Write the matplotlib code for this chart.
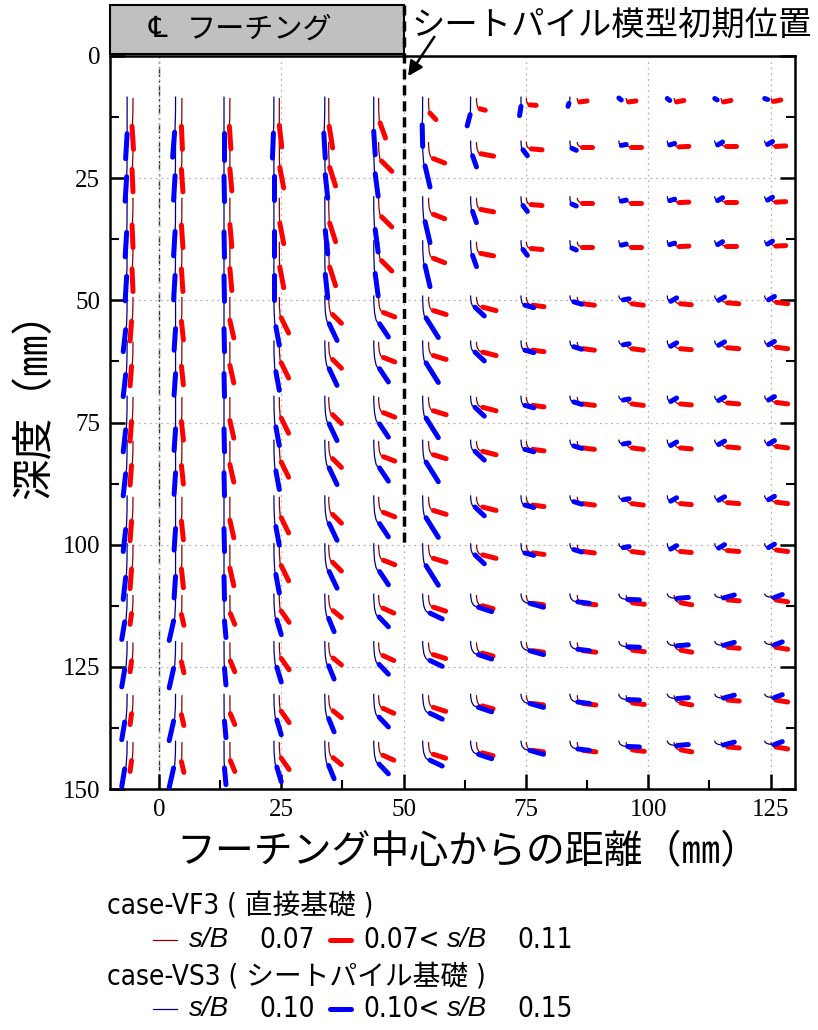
import matplotlib
matplotlib.use('Agg')
import matplotlib.pyplot as plt
from matplotlib import font_manager
from matplotlib.path import Path
from matplotlib.patches import PathPatch, Rectangle
from matplotlib.lines import Line2D
from matplotlib.ticker import MultipleLocator

JP = ['Noto Sans CJK JP', 'DejaVu Sans']
plt.rcParams['font.family'] = JP

# initial depth of each marker row (mm)
row_depth = [8.6, 17.6, 29.0, 38.0, 49.3, 58.5, 69.8, 78.8, 90.2, 100.0, 110.3, 120.0, 130.8, 140.4]
# 0 = surface row, 1 = upper rows, 2 = middle rows, 3 = deep rows
row_band = [0, 1, 1, 1, 2, 2, 2, 2, 2, 2, 3, 3, 3, 3]

# case-VF3 : start x of each column, and (dx1, dy1, dx2, dy2) per column
# (dx1, dy1) = end of s/B <= 0.07 stage, (dx2, dy2) = end of 0.07 < s/B <= 0.11
vf3_x0 = [-5.3, 4.7, 14.5, 24.6, 34.7, 44.9, 55.1, 64.9, 75.1, 85.5, 95.5, 105.3, 114.9, 125.1]
vf3_top = [(-0.2, 5.8, 0.1, 10.5), (-0.1, 5.8, 0.1, 10.5), (-0.1, 5.8, 0.2, 10.4), (0.0, 5.6, 0.5, 10.0),
           (0.1, 5.8, 0.8, 10.2), (0.3, 5.1, 1.4, 8.2), (0.3, 3.1, 1.5, 4.4), (0.7, 2.2, 1.8, 2.5),
           (0.7, 1.4, 2.0, 1.5), (0.5, 0.8, 2.0, 0.6), (0.5, 0.8, 2.0, 0.6), (0.5, 0.8, 2.0, 0.5),
           (0.5, 0.8, 2.0, 0.5), (0.5, 0.7, 2.0, 0.4)]
vf3_upper = [(-0.2, 5.6, 0.0, 10.2), (-0.1, 5.6, 0.2, 10.2), (0.0, 5.5, 0.4, 10.0), (0.1, 5.2, 0.9, 9.4),
             (0.2, 5.2, 1.4, 9.0), (0.6, 3.9, 2.7, 6.0), (1.0, 3.4, 3.3, 4.3), (0.9, 2.4, 3.5, 2.9),
             (1.0, 1.4, 3.2, 1.6), (1.0, 1.0, 3.0, 1.0), (1.0, 1.0, 3.0, 1.0), (1.0, 1.0, 3.0, 0.9),
             (1.0, 0.9, 3.0, 0.9), (1.0, 0.9, 3.0, 0.8)]
vf3_mid = [(-0.3, 5.0, -0.6, 9.0), (-0.1, 5.0, 0.3, 8.8), (0.0, 4.8, 0.8, 8.4), (0.4, 4.3, 1.9, 7.4),
           (0.8, 3.6, 2.6, 5.4), (1.0, 3.2, 3.3, 4.1), (1.0, 2.8, 3.6, 3.6), (1.3, 2.1, 4.0, 2.8),
           (1.3, 1.7, 3.6, 2.0), (1.2, 1.4, 3.5, 1.7), (1.2, 1.4, 3.5, 1.7), (1.3, 1.4, 3.5, 1.6),
           (1.3, 1.2, 3.6, 1.4), (1.1, 1.1, 3.4, 1.4)]
vf3_deep = [(-0.3, 3.8, -0.6, 6.0), (-0.1, 4.0, 0.4, 6.2), (0.1, 3.8, 1.0, 6.0), (0.4, 3.3, 2.0, 5.6),
            (0.9, 3.2, 2.6, 4.6), (0.9, 2.7, 3.1, 3.7), (1.0, 2.5, 3.5, 3.3), (1.2, 2.2, 3.4, 2.8),
            (1.3, 1.7, 3.5, 2.0), (1.2, 1.7, 3.8, 2.0), (1.3, 1.6, 3.7, 1.9), (1.4, 1.6, 3.6, 2.0),
            (1.4, 1.0, 3.7, 1.2), (1.0, 1.0, 3.4, 1.4)]

# case-VS3 : s/B <= 0.10 stage, then 0.10 < s/B <= 0.15
vs3_x0 = [-6.5, 3.4, 13.3, 23.5, 33.9, 43.9, 53.9, 63.7, 74.0, 84.0, 94.0, 103.9, 113.6, 123.8]
vs3_top = [(0.0, 7.6, -0.3, 12.7), (-0.2, 7.3, -0.6, 12.4), (0.0, 7.5, 0.0, 13.0), (-0.1, 7.5, -0.3, 12.6),
           (-0.2, 7.5, 0.1, 12.6), (0.0, 7.1, 0.3, 11.9), (-0.1, 5.8, 0.0, 10.2), (-0.1, 3.7, -0.7, 6.0),
           (0.0, 2.0, -0.3, 3.9), (-0.2, 1.4, -0.4, 2.0), (0.0, 0.3, 0.5, 0.7), (0.0, 0.4, 0.5, 0.8),
           (0.0, 0.4, 0.5, 0.7), (0.0, 0.4, 0.6, 0.6)]
vs3_upper = [(-0.1, 7.4, -0.4, 12.4), (-0.1, 7.2, -0.4, 12.2), (0.0, 7.3, 0.1, 12.5), (0.0, 7.2, 0.0, 12.2),
             (0.1, 7.0, 0.6, 11.8), (0.3, 6.8, 0.9, 11.4), (0.5, 5.2, 1.5, 9.5), (0.4, 3.1, 1.2, 5.4),
             (0.4, 1.9, 1.3, 3.1), (0.4, 1.6, 1.3, 2.0), (0.5, 1.0, 1.5, 0.8), (0.5, 0.9, 1.5, 0.6),
             (0.6, 0.9, 1.6, 0.3), (0.6, 0.8, 1.6, 0.2)]
vs3_mid = [(-0.3, 7.0, -0.8, 11.5), (0.0, 6.8, -0.3, 11.2), (0.0, 6.8, 0.1, 11.5), (0.4, 6.4, 1.1, 10.2),
           (0.9, 5.8, 2.5, 9.2), (1.2, 5.8, 3.0, 8.5), (0.7, 4.6, 3.2, 8.6), (0.9, 2.4, 2.8, 4.2),
           (0.8, 2.0, 2.6, 2.5), (0.8, 1.3, 2.4, 1.8), (0.9, 0.9, 2.1, 0.7), (0.7, 1.2, 1.9, 0.5),
           (0.8, 1.0, 2.0, 0.3), (0.8, 0.9, 2.0, 0.2)]
vs3_deep = [(-0.5, 5.8, -1.1, 9.4), (-0.4, 5.6, -1.3, 9.6), (0.1, 5.6, 0.4, 9.0), (0.6, 5.4, 1.5, 8.4),
            (0.8, 5.1, 1.9, 7.8), (1.1, 4.8, 3.0, 6.8), (1.5, 4.0, 4.0, 5.2), (1.6, 2.8, 4.3, 3.7),
            (1.8, 2.0, 4.6, 2.8), (1.6, 1.7, 4.0, 2.0), (1.8, 1.2, 4.2, 1.3), (2.0, 1.0, 4.3, 0.8),
            (1.8, 0.9, 4.0, 0.3), (2.0, 0.8, 3.6, 0.2)]

x_ticks = [0, 25, 50, 75, 100, 125]
y_ticks = [0, 25, 50, 75, 100, 125, 150]

W, H = 818, 1030


def fx(p):
    return p / W


def fy(p):
    return 1 - p / H


def draw_case(ax, x0s, bands, y_shift, thin_c, thick_c):
    for i, x0 in enumerate(x0s):
        for r, yr in enumerate(row_depth):
            dx1, dy1, dx2, dy2 = bands[row_band[r]][i]
            y0 = yr + y_shift
            verts = [(x0, y0), (x0, y0 + dy1), (x0 + dx1, y0 + dy1)]
            path = Path(verts, [Path.MOVETO, Path.CURVE3, Path.CURVE3])
            ax.add_patch(PathPatch(path, fill=False, edgecolor=thin_c, lw=0.9, zorder=3))
            ax.plot([x0 + dx1, x0 + dx2], [y0 + dy1, y0 + dy2], color=thick_c, lw=3.6,
                    solid_capstyle='round', zorder=4)


# narrow latin face for the legend if one is installed
installed = {f.name for f in font_manager.fontManager.ttflist}
narrow_kw = {'family': ['Liberation Sans', 'Noto Sans CJK JP']}
if 'Liberation Sans Narrow' in installed:
    narrow_kw = {'family': ['Liberation Sans Narrow', 'Noto Sans CJK JP']}
elif any(f.name == 'DejaVu Sans' and 'ondensed' in f.fname for f in font_manager.fontManager.ttflist):
    narrow_kw = {'family': ['DejaVu Sans', 'Noto Sans CJK JP'], 'fontstretch': 'condensed'}

fig = plt.figure(figsize=(W / 100, H / 100), dpi=100)
ax = fig.add_axes([fx(110), fy(789), (795 - 110) / W, (789 - 56) / H])
ax.set_xlim(-10, 130)
ax.set_ylim(150, 0)

ax.set_xticks(x_ticks)
ax.set_yticks(y_ticks)
ax.xaxis.set_minor_locator(MultipleLocator(12.5))
ax.yaxis.set_minor_locator(MultipleLocator(12.5))
ax.tick_params(which='major', direction='in', length=11, width=1.8, top=False, right=True, pad=7)
ax.tick_params(which='minor', direction='in', length=6.5, width=1.5, top=False, right=True)
for lab in ax.get_xticklabels() + ax.get_yticklabels():
    lab.set_fontfamily('Liberation Serif')
    lab.set_fontsize(18)
for s in ax.spines.values():
    s.set_linewidth(1.8)

ax.grid(True, which='major', color='#b4b4b4', lw=0.9, linestyle=(0, (1.5, 3)), zorder=0)
ax.axvline(0, color='#333333', lw=1.0, linestyle=(0, (7, 2.5, 1.5, 2.5)), zorder=1)

draw_case(ax, vf3_x0, [vf3_top, vf3_upper, vf3_mid, vf3_deep], 0.0, '#8b0000', '#ff0000')
draw_case(ax, vs3_x0, [vs3_top, vs3_upper, vs3_mid, vs3_deep], -0.3, '#000080', '#0000ff')

# footing box, sheet pile position
ax.add_patch(Rectangle((-10, -10.4), 60, 10.0, facecolor='#c0c0c0', edgecolor='k',
                       lw=1.5, clip_on=False, zorder=5))
ax.plot([50, 50], [-10.4, 100], color='k', lw=2.5, linestyle=(0, (2.9, 1.7)),
        clip_on=False, zorder=5)
ax.annotate('', xy=(50.6, 4.6), xytext=(56.6, -4.4), annotation_clip=False,
            arrowprops=dict(arrowstyle='-|>', color='k', lw=1.8, mutation_scale=22))

fig.text(fx(158), fy(29), '℄', ha='center', va='center', fontsize=21)
fig.text(fx(260), fy(30), 'フーチング', ha='center', va='center', fontsize=21)
fig.text(fx(411), fy(25), 'シートパイル模型初期位置', ha='left', va='center', fontsize=24)

fig.text(fx(468), fy(852), 'フーチング中心からの距離（㎜）', ha='center', va='center', fontsize=28)
fig.text(fx(35), fy(395), '深度（㎜）', ha='center', va='center', rotation=90, fontsize=30)

# legend
fs = 20
fig.text(fx(107), fy(907), 'case-VF3 ( 直接基礎 )', fontsize=fs, va='center', **narrow_kw)
fig.text(fx(107), fy(976), 'case-VS3 ( シートパイル基礎 )', fontsize=fs, va='center', **narrow_kw)

for yy, thin_c, thick_c, a, b in [(940, '#8b0000', '#ff0000', '0.07', '0.11'),
                                   (1009, '#000080', '#0000ff', '0.10', '0.15')]:
    fig.add_artist(Line2D([fx(153), fx(177)], [fy(yy), fy(yy)], color=thin_c, lw=0.9))
    fig.add_artist(Line2D([fx(330), fx(351)], [fy(yy), fy(yy)], color=thick_c, lw=3.6,
                          solid_capstyle='round'))
    fig.text(fx(189), fy(yy), 's/B', family='Liberation Sans', style='italic', fontsize=fs, va='center')
    fig.text(fx(259), fy(yy), a, fontsize=fs, va='center', **narrow_kw)
    fig.text(fx(363), fy(yy), a + '<', fontsize=fs, va='center', **narrow_kw)
    fig.text(fx(447), fy(yy), 's/B', family='Liberation Sans', style='italic', fontsize=fs, va='center')
    fig.text(fx(517), fy(yy), b, fontsize=fs, va='center', **narrow_kw)

fig.savefig('out.png', dpi=100)
